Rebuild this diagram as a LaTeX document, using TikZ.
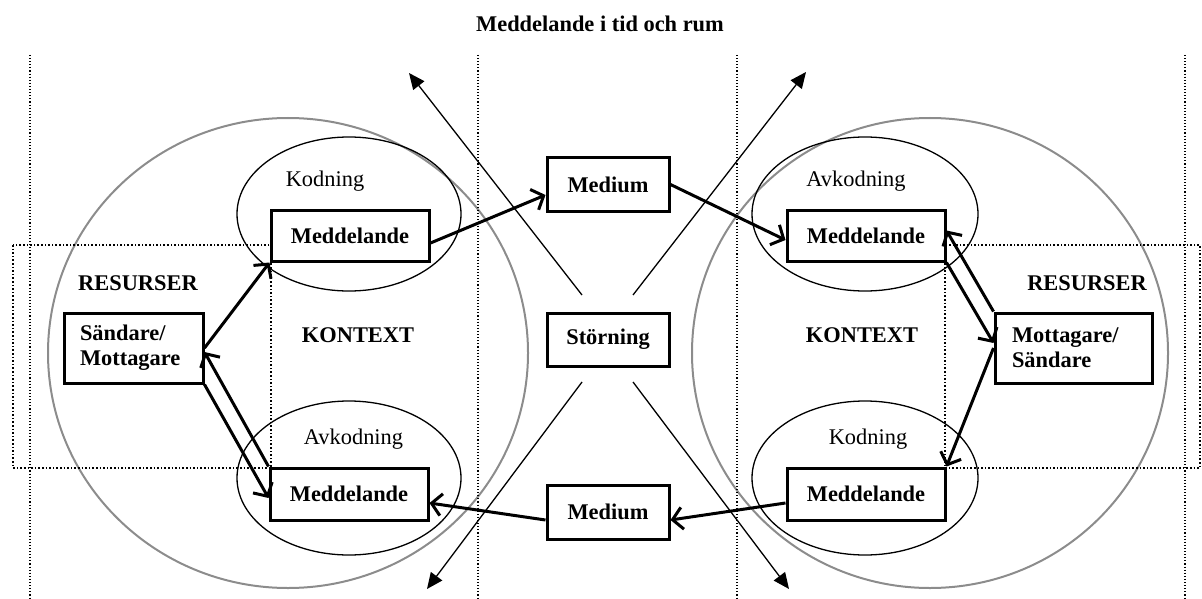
\documentclass[tikz,border=0pt]{standalone}
\usepackage{fontspec}
\setmainfont{Liberation Serif}
\usetikzlibrary{arrows.meta}
\definecolor{ringgray}{HTML}{8C8C8C}
\begin{document}
\begin{tikzpicture}[x=1pt,y=-1pt,
  font=\fontsize{22.4}{25}\selectfont,
  box/.style={draw,line width=3pt,fill=white,inner sep=0pt,
    font=\fontsize{22.4}{25}\selectfont\bfseries},
  twoline/.style={box,align=left,minimum height=70pt},
  label/.style={inner sep=0pt,anchor=base},
  boldlabel/.style={label,font=\fontsize{22.4}{25}\selectfont\bfseries},
  ring/.style={draw=ringgray,line width=2pt},
  zone/.style={draw,line width=1.3pt},
  grid/.style={line width=1.1pt,dash pattern=on 1.1pt off 2pt},
  frame/.style={line width=1.6pt,dash pattern=on 1.6pt off 2pt},
  flow/.style={line width=3pt,-{Straight Barb[length=10pt,width=22pt,line width=3pt]}},
  noise/.style={line width=1.3pt,-{Triangle[length=16pt,width=14pt]}}
]
\useasboundingbox (0,0) rectangle (1202,599);

% large context circles
\draw[ring] (288,353) ellipse [x radius=240,y radius=235];
\draw[ring] (930,353) ellipse [x radius=238,y radius=235];

% coding / decoding ellipses
\draw[zone] (349,214) ellipse [x radius=112,y radius=77];
\draw[zone] (349,478) ellipse [x radius=112,y radius=77];
\draw[zone] (865,214) ellipse [x radius=113,y radius=77];
\draw[zone] (865,478) ellipse [x radius=113,y radius=77];

% time and space grid
\foreach \gx in {30,478,737,1185}
  \draw[grid] (\gx,55) -- (\gx,599);

% resource frames
\draw[frame] (13,245) rectangle (271,468);
\draw[frame] (945,245) rectangle (1200,468);

% title
\node[boldlabel] (title) at (600,32) {Meddelande i tid och rum};

% boxes
\node[box,minimum width=158pt,minimum height=51pt] (mtl) at (350,235.5) {Meddelande};
\node[box,minimum width=158pt,minimum height=52pt] (mbl) at (349,494) {Meddelande};
\node[box,minimum width=158pt,minimum height=51pt] (mtr) at (866,235.5) {Meddelande};
\node[box,minimum width=158pt,minimum height=52pt] (mbr) at (866,494) {Meddelande};
\node[twoline,inner xsep=16pt,text width=107pt] (sand) at (133.5,348) {Sändare/\\Mottagare};
\node[twoline,inner xsep=17pt,text width=123pt] (mott) at (1073.5,348) {Mottagare/\\Sändare};
\node[box,minimum width=122pt,minimum height=53pt] (stor) at (608,339.5) {Störning};
\node[box,minimum width=122pt,minimum height=54pt] (medt) at (608,184.5) {Medium};
\node[box,minimum width=122pt,minimum height=54pt] (medb) at (608,512) {Medium};

% labels
\node[label] (kodl) at (325,186) {Kodning};
\node[label] (avkl) at (353.5,444) {Avkodning};
\node[label] (avkr) at (856,186) {Avkodning};
\node[label] (kodr) at (868,444) {Kodning};
\node[boldlabel] (resl) at (138,290) {RESURSER};
\node[boldlabel] (resr) at (1087,290) {RESURSER};
\node[boldlabel] (konl) at (358,342) {KONTEXT};
\node[boldlabel] (konr) at (862,342) {KONTEXT};

% disturbance arrows
\coordinate (n1) at (582,295);
\coordinate (n2) at (633,295);
\coordinate (n3) at (582,382);
\coordinate (n4) at (633,382);
\coordinate (t1) at (409,73);
\coordinate (t2) at (806,72);
\coordinate (t3) at (427,589);
\coordinate (t4) at (789,589);
\draw[noise] (n1) -- (t1);
\draw[noise] (n2) -- (t2);
\draw[noise] (n3) -- (t3);
\draw[noise] (n4) -- (t4);

% sender side
\draw[flow] (sand.east) -- (mtl.south west);
\draw[flow] (mbl.north west) -- ([yshift=-4pt]sand.east);
\draw[flow] (sand.south east) -- ([yshift=-4pt]mbl.west);

% receiver side
\draw[flow] (mott.north west) -- ([yshift=5pt]mtr.east);
\draw[flow] (mtr.south east) -- ([yshift=5pt]mott.west);
\draw[flow] (mott.west) -- (mbr.north east);

% media
\draw[flow] ([yshift=-7.5pt]mtl.east) -- ([yshift=-10.5pt]medt.west);
\draw[flow] (medt.east) -- ([yshift=-4.5pt]mtr.west);
\draw[flow] ([yshift=-9pt]mbr.west) -- ([yshift=-8pt]medb.east);
\draw[flow] ([yshift=-8pt]medb.west) -- ([yshift=-9pt]mbl.east);
\end{tikzpicture}
\end{document}
